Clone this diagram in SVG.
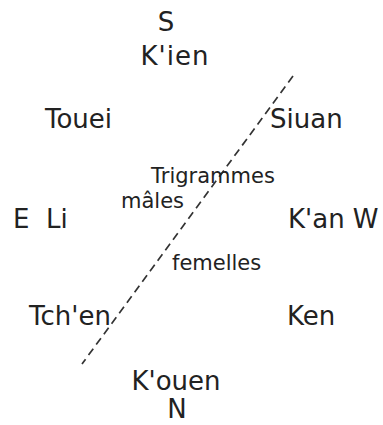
<svg xmlns="http://www.w3.org/2000/svg" width="383" height="425" viewBox="0 0 383 425">
<style>
.t{font-family:"DejaVu Sans",Verdana,sans-serif;font-size:26px;fill:#222}
.s{font-family:"DejaVu Sans",Verdana,sans-serif;font-size:21px;fill:#222}
.d{stroke:#333;stroke-width:1.7;stroke-dasharray:8 5;fill:none}
</style>
<rect width="383" height="425" fill="#fff"/>
<g id="connectors">
<line class="d" x1="293" y1="76" x2="82" y2="364"/>
</g>
<g id="S"><text class="t" x="166" y="31" text-anchor="middle">S</text></g>
<g id="Kien"><text class="t" x="175" y="65" text-anchor="middle" letter-spacing="1">K'ien</text></g>
<g id="Touei"><text class="t" x="45" y="128">Touei</text></g>
<g id="Siuan"><text class="t" x="270" y="128">Siuan</text></g>
<g id="ELi"><text class="t" x="13" y="228" xml:space="preserve">E  Li</text></g>
<g id="KanW"><text class="t" x="288" y="228">K'an W</text></g>
<g id="Trigrammes"><text class="s" x="151" y="183">Trigrammes</text></g>
<g id="males"><text class="s" x="121" y="208">mâles</text></g>
<g id="femelles"><text class="s" x="172" y="270">femelles</text></g>
<g id="Tchen"><text class="t" x="29" y="325">Tch'en</text></g>
<g id="Ken"><text class="t" x="287" y="325">Ken</text></g>
<g id="Kouen"><text class="t" x="176" y="390" text-anchor="middle">K'ouen</text></g>
<g id="N"><text class="t" x="177" y="418" text-anchor="middle">N</text></g>
</svg>
